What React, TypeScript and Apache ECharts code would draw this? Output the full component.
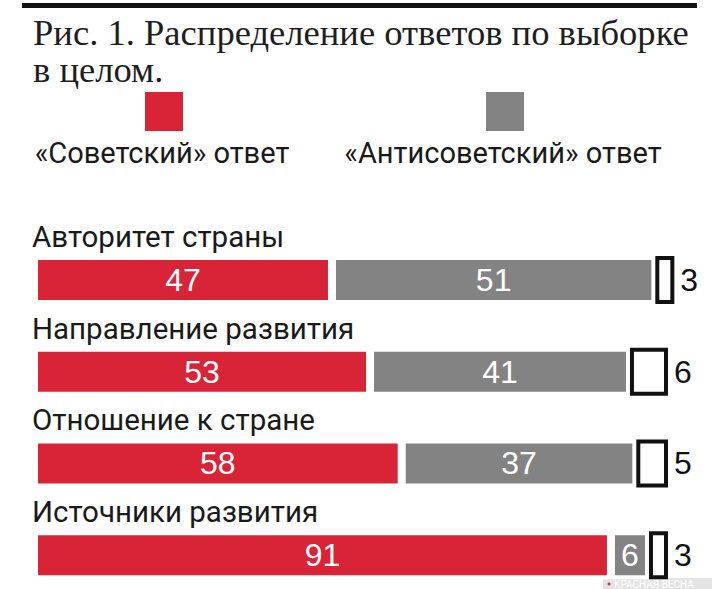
import React, { useEffect, useRef } from "react";
import * as echarts from "echarts";

const categories = [
  "Авторитет страны",
  "Направление развития",
  "Отношение к стране",
  "Источники развития",
];
const seriesNames = ["«Советский» ответ", "«Антисоветский» ответ"];
const sovietValues = [47, 53, 58, 91];
const antiValues = [51, 41, 37, 6];
const otherValues = [3, 6, 5, 3];
const titleLines = ["Рис. 1. Распределение ответов по выборке", "в целом."];

const RED = "#d92438";
const GRAY = "#838383";
const SANS = "Roboto, 'Liberation Sans', sans-serif";
const NUM = "'Liberation Sans Narrow', 'Liberation Sans', sans-serif";

export default function App() {
  const ref = useRef<HTMLDivElement>(null);
  useEffect(() => {
    if (!ref.current) return;
    const chart = echarts.init(ref.current, null, { renderer: "svg" });
    const placeholder = sovietValues.map((v, i) => v + antiValues[i]);
    const legendX = [162, 503];
    const legendColors = [RED, GRAY];
    const legendGraphics: any[] = [];
    seriesNames.forEach((n, i) => {
      legendGraphics.push({
        type: "rect",
        shape: { x: legendX[i] - 17, y: 92, width: 38, height: 39 },
        style: { fill: legendColors[i] },
      });
      legendGraphics.push({
        type: "text",
        x: legendX[i],
        y: 153,
        style: {
          text: n,
          fill: "#1a1a1a",
          font: `29px ${SANS}`,
          align: "center",
          verticalAlign: "middle",
        },
      });
    });
    const valueLabel = {
      show: true,
      position: "inside",
      color: "#ffffff",
      fontFamily: NUM,
      fontSize: 32,
    };
    const option: any = {
      animation: false,
      backgroundColor: "#ffffff",
      title: {
        text: titleLines.join("\n"),
        left: 28,
        top: 9,
        textStyle: {
          fontFamily: "'Liberation Serif', serif",
          fontSize: 36.6,
          lineHeight: 37,
          fontWeight: "normal",
          color: "#1e1e1e",
        },
      },
      graphic: [
        {
          type: "rect",
          shape: { x: 22, y: 3, width: 675, height: 5 },
          style: { fill: "#111" },
        },
        ...legendGraphics,
        {
          type: "rect",
          shape: { x: 603, y: 578, width: 109, height: 11 },
          style: { fill: "#e4e4e4" },
        },
        {
          type: "circle",
          shape: { cx: 609, cy: 584, r: 1.5 },
          style: { fill: RED },
        },
        {
          type: "text",
          x: 614,
          y: 584,
          style: {
            text: "КРАСНАЯ ВЕСНА",
            fill: "#ffffff",
            font: `10px ${SANS}`,
            verticalAlign: "middle",
          },
        },
      ],
      grid: {
        left: 34,
        top: 234,
        width: 697.4,
        height: 367,
        outerBoundsMode: "none",
        containLabel: false,
      },
      xAxis: { type: "value", min: 0, max: 110, show: false },
      yAxis: {
        type: "category",
        data: categories,
        inverse: true,
        z: 10,
        axisLine: { show: false },
        axisTick: { show: false },
        axisLabel: {
          show: true,
          interval: 0,
          showMinLabel: true,
          showMaxLabel: true,
          hideOverlap: false,
          align: "left",
          verticalAlign: "middle",
          margin: 2,
          formatter: (v: string) => `{t|${v}}\n{s|}`,
          rich: {
            t: {
              fontFamily: SANS,
              fontSize: 29.5,
              lineHeight: 34,
              color: "#1a1a1a",
              align: "left",
            },
            s: { height: 86, lineHeight: 86, fontSize: 1 },
          },
        },
      },
      series: [
        {
          name: seriesNames[0],
          type: "bar",
          stack: "a",
          barWidth: 48,
          data: sovietValues,
          itemStyle: { color: RED, borderColor: "#ffffff", borderWidth: 4 },
          label: valueLabel,
        },
        {
          name: seriesNames[1],
          type: "bar",
          stack: "a",
          barWidth: 48,
          data: antiValues,
          itemStyle: { color: GRAY, borderColor: "#ffffff", borderWidth: 4 },
          label: valueLabel,
        },
        {
          name: "base",
          type: "bar",
          stack: "b",
          barWidth: 48,
          barGap: "-100%",
          data: placeholder,
          silent: true,
          itemStyle: { color: "transparent" },
          label: { show: false },
        },
        {
          name: "Прочее",
          type: "bar",
          stack: "b",
          barWidth: 48,
          barGap: "-100%",
          data: otherValues,
          itemStyle: { color: "#ffffff", borderColor: "#111111", borderWidth: 4 },
          label: {
            show: true,
            position: "right",
            distance: 6,
            color: "#111111",
            fontFamily: NUM,
            fontSize: 32,
          },
        },
      ],
    };
    chart.setOption(option);
    return () => chart.dispose();
  }, []);
  return (
    <div
      ref={ref}
      style={{ position: "absolute", left: 0, top: 0, width: 712, height: 589 }}
    />
  );
}
